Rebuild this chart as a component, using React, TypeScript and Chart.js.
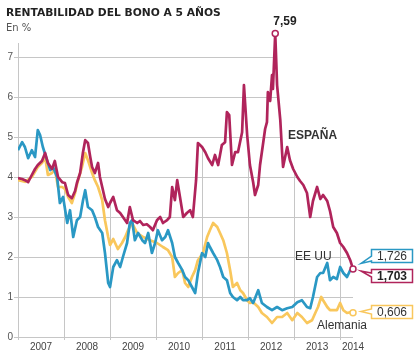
import React, { useEffect, useRef } from 'react';
import { Chart, registerables } from 'chart.js';

Chart.register(...registerables);

// ---- DATA (decimal years, yield in %) ----
const SPAIN_DATES = [
  2007.00, 2007.09, 2007.15, 2007.22, 2007.30, 2007.37, 2007.43, 2007.52, 2007.59, 2007.65,
  2007.74, 2007.80, 2007.87, 2007.96, 2008.02, 2008.09, 2008.17, 2008.24, 2008.28, 2008.35,
  2008.41, 2008.46, 2008.52, 2008.57, 2008.61, 2008.67, 2008.74, 2008.78, 2008.83, 2008.89,
  2008.96, 2009.00, 2009.07, 2009.15, 2009.22, 2009.28, 2009.37, 2009.43, 2009.50, 2009.59,
  2009.65, 2009.72, 2009.80, 2009.87, 2009.93, 2010.02, 2010.09, 2010.15, 2010.24, 2010.30,
  2010.35, 2010.41, 2010.46, 2010.52, 2010.59, 2010.67, 2010.74, 2010.80, 2010.87, 2010.91,
  2011.00, 2011.07, 2011.13, 2011.22, 2011.28, 2011.35, 2011.43, 2011.50, 2011.54, 2011.59,
  2011.65, 2011.72, 2011.78, 2011.87, 2011.91, 2011.98, 2012.04, 2012.11, 2012.15, 2012.22,
  2012.26, 2012.33, 2012.37, 2012.41, 2012.43, 2012.48, 2012.52, 2012.54, 2012.59, 2012.63,
  2012.70, 2012.74, 2012.76, 2012.85, 2012.91, 2012.98, 2013.07, 2013.13, 2013.20, 2013.28,
  2013.35, 2013.41, 2013.50, 2013.57, 2013.63, 2013.72, 2013.78, 2013.85, 2013.93, 2014.00,
  2014.07, 2014.15, 2014.22, 2014.28,
];
const SPAIN_VALUES = [
  3.97, 3.95, 3.92, 3.87, 4.05, 4.20, 4.30, 4.40, 4.60, 4.35,
  4.20, 4.40, 4.00, 3.87, 3.85, 3.55, 3.47, 3.65, 3.85, 4.10,
  4.60, 4.92, 4.85, 4.50, 4.25, 4.10, 4.35, 4.00, 3.75, 3.45,
  3.25, 3.35, 3.50, 3.17, 3.10, 3.00, 2.85, 3.25, 2.92, 2.85,
  2.90, 2.80, 2.82, 2.75, 2.67, 2.92, 3.00, 2.85, 2.92, 3.00,
  3.75, 3.42, 3.92, 3.50, 3.00, 3.10, 3.17, 3.00, 3.92, 4.85,
  4.75, 4.62, 4.47, 4.30, 4.55, 4.30, 4.80, 4.87, 5.62, 5.55,
  4.30, 4.62, 4.62, 5.12, 6.30, 5.05, 4.30, 3.87, 3.55, 3.80,
  4.30, 4.87, 5.20, 5.37, 6.12, 5.90, 6.55, 6.20, 7.59, 6.30,
  5.42, 4.60, 4.25, 4.75, 4.42, 4.20, 4.00, 3.90, 3.80, 3.60,
  3.00, 3.40, 3.75, 3.45, 3.55, 3.40, 3.15, 2.75, 2.60, 2.35,
  2.25, 2.10, 1.92, 1.703,
];

const US_DATES = [
  2007.00, 2007.09, 2007.15, 2007.22, 2007.30, 2007.37, 2007.43, 2007.48, 2007.54, 2007.63,
  2007.70, 2007.76, 2007.85, 2007.91, 2007.98, 2008.07, 2008.13, 2008.20, 2008.28, 2008.35,
  2008.41, 2008.46, 2008.52, 2008.61, 2008.67, 2008.74, 2008.83, 2008.89, 2008.96, 2009.00,
  2009.07, 2009.15, 2009.22, 2009.28, 2009.37, 2009.43, 2009.48, 2009.54, 2009.61, 2009.70,
  2009.76, 2009.83, 2009.91, 2009.98, 2010.04, 2010.13, 2010.20, 2010.26, 2010.35, 2010.41,
  2010.48, 2010.57, 2010.63, 2010.70, 2010.78, 2010.85, 2010.91, 2011.00, 2011.07, 2011.13,
  2011.17, 2011.24, 2011.33, 2011.39, 2011.46, 2011.54, 2011.61, 2011.67, 2011.76, 2011.83,
  2011.89, 2011.98, 2012.04, 2012.11, 2012.22, 2012.30, 2012.41, 2012.52, 2012.63, 2012.74,
  2012.85, 2012.96, 2013.07, 2013.17, 2013.28, 2013.35, 2013.41, 2013.50, 2013.57, 2013.63,
  2013.72, 2013.78, 2013.85, 2013.93, 2014.00, 2014.07, 2014.15, 2014.22, 2014.28,
];
const US_VALUES = [
  4.67, 4.87, 4.75, 4.47, 4.67, 4.50, 5.17, 5.05, 4.75, 4.42,
  4.17, 4.25, 4.00, 3.35, 3.50, 2.85, 3.17, 2.50, 2.92, 3.00,
  3.40, 3.67, 3.25, 3.17, 3.00, 2.75, 2.60, 2.10, 1.35, 1.25,
  1.75, 1.92, 1.75, 2.00, 2.35, 2.85, 2.92, 2.42, 2.60, 2.42,
  2.35, 2.60, 2.10, 2.35, 2.67, 2.42, 2.50, 2.67, 2.35, 2.00,
  1.85, 1.67, 1.50, 1.42, 1.25, 1.10, 1.60, 2.10, 2.00, 2.35,
  2.25, 2.10, 1.92, 1.75, 1.50, 1.42, 1.10, 1.00, 0.92, 1.00,
  0.92, 0.92, 0.97, 0.85, 1.17, 0.85, 0.75, 0.67, 0.75, 0.67,
  0.72, 0.75, 0.87, 0.92, 0.75, 0.72, 1.00, 1.50, 1.60, 1.60,
  1.85, 1.42, 1.50, 1.45, 1.75, 1.60, 1.50, 1.67, 1.726,
];

const DE_DATES = [
  2007.00, 2007.15, 2007.30, 2007.43, 2007.52, 2007.59, 2007.65, 2007.74, 2007.80, 2007.87,
  2007.96, 2008.02, 2008.09, 2008.17, 2008.24, 2008.30, 2008.39, 2008.46, 2008.52, 2008.61,
  2008.67, 2008.74, 2008.83, 2008.89, 2008.96, 2009.00, 2009.07, 2009.17, 2009.26, 2009.33,
  2009.39, 2009.48, 2009.59, 2009.72, 2009.87, 2010.02, 2010.15, 2010.26, 2010.35, 2010.41,
  2010.48, 2010.57, 2010.63, 2010.70, 2010.78, 2010.85, 2010.91, 2011.02, 2011.11, 2011.17,
  2011.24, 2011.33, 2011.39, 2011.46, 2011.54, 2011.61, 2011.67, 2011.76, 2011.83, 2011.89,
  2011.98, 2012.04, 2012.11, 2012.22, 2012.30, 2012.41, 2012.52, 2012.63, 2012.74, 2012.85,
  2012.96, 2013.07, 2013.17, 2013.28, 2013.39, 2013.46, 2013.52, 2013.59, 2013.63, 2013.72,
  2013.78, 2013.85, 2013.93, 2014.00, 2014.07, 2014.15, 2014.22, 2014.28,
];
const DE_VALUES = [
  3.92, 3.88, 4.00, 4.25, 4.35, 4.50, 4.05, 4.10, 4.20, 3.75,
  3.75, 3.70, 3.50, 3.35, 3.60, 3.90, 4.25, 4.60, 4.42, 4.10,
  3.92, 3.75, 3.42, 2.92, 2.50, 2.30, 2.45, 2.20, 2.35, 2.50,
  2.67, 2.85, 2.60, 2.50, 2.42, 2.35, 2.25, 2.17, 2.00, 1.50,
  1.60, 1.67, 1.35, 1.25, 1.50, 1.67, 1.92, 2.10, 2.50, 2.67,
  2.85, 2.75, 2.60, 2.42, 2.10, 1.67, 1.25, 1.35, 1.17, 1.10,
  0.92, 0.85, 0.87, 0.75, 0.60, 0.50, 0.35, 0.50, 0.50, 0.60,
  0.42, 0.60, 0.50, 0.35, 0.42, 0.60, 0.75, 1.00, 0.92, 0.75,
  0.67, 0.67, 0.67, 0.85, 0.67, 0.60, 0.62, 0.606,
];

const Y_TICKS = [0, 1, 2, 3, 4, 5, 6, 7];
const YEAR_LABELS = ['2007', '2008', '2009', '2010', '2011', '2012', '2013', '2014'];
const YEAR_LABEL_AT = [2007.5, 2008.5, 2009.5, 2010.5, 2011.5, 2012.5, 2013.5, 2014.28];
const YEAR_BOUNDARIES = [2008, 2009, 2010, 2011, 2012, 2013, 2014];
const AXIS_TOP_VALUE = 7.35;

const TITLE = 'RENTABILIDAD DEL BONO A 5 AÑOS';
const SUBTITLE = 'En %';
const SERIES_NAMES = ['ESPAÑA', 'EE UU', 'Alemania'];

// ---- STYLE ----
const RED = '#b0245b';
const BLUE = '#2a98c4';
const YELLOW = '#f9c75c';
const GRID = '#c6c6c6';
const TEXT = '#333333';
const LABEL_FONT = '"Liberation Sans", Arial, sans-serif';
const TITLE_FONT = '"DejaVu Sans", Verdana, sans-serif';

const toPoints = (d: number[], v: number[]) => d.map((x, i) => ({ x, y: v[i] }));
const fmt = (v: number, digits: number) => v.toFixed(digits).replace('.', ',');

function valueAt(dates: number[], values: number[], xv: number) {
  for (let i = 0; i < dates.length - 1; i++) {
    if (xv >= dates[i] && xv <= dates[i + 1]) {
      const t = (xv - dates[i]) / (dates[i + 1] - dates[i]);
      return values[i] + t * (values[i + 1] - values[i]);
    }
  }
  return values[values.length - 1];
}

function drawCircle(ctx: CanvasRenderingContext2D, x: number, y: number, color: string) {
  ctx.beginPath();
  ctx.arc(x, y, 3, 0, Math.PI * 2);
  ctx.fillStyle = '#ffffff';
  ctx.fill();
  ctx.lineWidth = 1.5;
  ctx.strokeStyle = color;
  ctx.stroke();
}

function drawBox(
  ctx: CanvasRenderingContext2D,
  x: number, y: number, w: number, h: number,
  tailTop: number, tailBottom: number, tipX: number, tipY: number,
  color: string, text: string, bold: boolean,
) {
  ctx.beginPath();
  ctx.moveTo(x, y);
  ctx.lineTo(x + w, y);
  ctx.lineTo(x + w, y + h);
  ctx.lineTo(x, y + h);
  ctx.lineTo(x, tailBottom);
  ctx.lineTo(tipX, tipY);
  ctx.lineTo(x, tailTop);
  ctx.closePath();
  ctx.fillStyle = '#ffffff';
  ctx.fill();
  ctx.lineWidth = 1.5;
  ctx.lineJoin = 'miter';
  ctx.strokeStyle = color;
  ctx.stroke();
  ctx.fillStyle = bold ? '#222222' : TEXT;
  ctx.font = `${bold ? 'bold ' : ''}12px ${LABEL_FONT}`;
  ctx.textAlign = 'center';
  ctx.textBaseline = 'middle';
  ctx.fillText(text, x + w / 2, y + h / 2 + 0.5);
}

const decorPlugin = {
  id: 'decor',
  beforeDatasetsDraw(chart: any) {
    const { ctx, chartArea: a, scales } = chart;
    const xs = scales.x;
    const ys = scales.y;
    const n = SPAIN_VALUES.length;
    ctx.save();
    ctx.strokeStyle = GRID;
    ctx.lineWidth = 1;
    ctx.beginPath();
    for (const t of Y_TICKS) {
      let endX = a.right;
      if (SPAIN_VALUES[n - 1] < t) {
        let i = n - 1;
        while (i >= 0 && SPAIN_VALUES[i] < t) i--;
        if (i < 0) endX = a.left;
        else {
          const v0 = SPAIN_VALUES[i];
          const v1 = SPAIN_VALUES[i + 1];
          const d = SPAIN_DATES[i] + ((v0 - t) / (v0 - v1)) * (SPAIN_DATES[i + 1] - SPAIN_DATES[i]);
          endX = xs.getPixelForValue(d);
        }
      }
      const py = Math.round(ys.getPixelForValue(t)) + 0.5;
      ctx.moveTo(a.left - 4, py);
      ctx.lineTo(endX, py);
    }
    for (const yr of YEAR_BOUNDARIES) {
      const px = Math.round(xs.getPixelForValue(yr)) + 0.5;
      const top = ys.getPixelForValue(valueAt(SPAIN_DATES, SPAIN_VALUES, yr));
      ctx.moveTo(px, a.bottom + 3);
      ctx.lineTo(px, top);
    }
    const lx = Math.round(a.left) + 0.5;
    ctx.moveTo(lx, a.bottom + 3);
    ctx.lineTo(lx, ys.getPixelForValue(AXIS_TOP_VALUE));
    ctx.stroke();
    ctx.restore();
  },
  afterDatasetsDraw(chart: any) {
    const { ctx, scales } = chart;
    const xs = scales.x;
    const ys = scales.y;
    ctx.save();

    // peak marker
    let pk = 0;
    SPAIN_VALUES.forEach((v, i) => { if (v > SPAIN_VALUES[pk]) pk = i; });
    const pkX = xs.getPixelForValue(SPAIN_DATES[pk]);
    const pkY = ys.getPixelForValue(SPAIN_VALUES[pk]);
    drawCircle(ctx, pkX, pkY, RED);
    ctx.fillStyle = '#222222';
    ctx.font = `bold 12px ${LABEL_FONT}`;
    ctx.textAlign = 'left';
    ctx.textBaseline = 'alphabetic';
    ctx.fillText(fmt(SPAIN_VALUES[pk], 2), pkX - 2, pkY - 8);

    // end markers
    const lastS = SPAIN_VALUES.length - 1;
    const lastD = DE_VALUES.length - 1;
    const lastU = US_VALUES.length - 1;
    drawCircle(ctx, xs.getPixelForValue(DE_DATES[lastD]), ys.getPixelForValue(DE_VALUES[lastD]), YELLOW);
    drawCircle(ctx, xs.getPixelForValue(SPAIN_DATES[lastS]), ys.getPixelForValue(SPAIN_VALUES[lastS]), RED);

    // series names
    ctx.fillStyle = TEXT;
    ctx.textAlign = 'left';
    ctx.textBaseline = 'alphabetic';
    ctx.font = `bold 12px ${LABEL_FONT}`;
    ctx.fillText(SERIES_NAMES[0], 288, 139);
    ctx.font = `12px ${LABEL_FONT}`;
    ctx.fillText(SERIES_NAMES[1], 295, 260);
    ctx.fillText(SERIES_NAMES[2], 317, 329);

    // value boxes
    drawBox(ctx, 371.5, 249.5, 41, 13, 256, 261, 361, 263.5, BLUE, fmt(US_VALUES[lastU], 3), false);
    drawBox(ctx, 371.5, 269.5, 41, 13, 273, 277, 361, 271, RED, fmt(SPAIN_VALUES[lastS], 3), true);
    drawBox(ctx, 371.5, 305.5, 41, 13, 309, 314, 361, 311.5, YELLOW, fmt(DE_VALUES[lastD], 3), false);
    ctx.restore();
  },
  afterDraw(chart: any) {
    const { ctx } = chart;
    ctx.save();
    ctx.textAlign = 'left';
    ctx.textBaseline = 'alphabetic';
    ctx.fillStyle = '#222222';
    ctx.font = `bold 10.7px ${TITLE_FONT}`;
    ctx.fillText(TITLE, 6, 15.5);
    ctx.fillStyle = '#555555';
    ctx.font = `10px ${TITLE_FONT}`;
    ctx.fillText(SUBTITLE, 6, 31);
    ctx.restore();
  },
};

export default function App() {
  const ref = useRef<HTMLCanvasElement | null>(null);

  useEffect(() => {
    if (!ref.current) return;
    const chart = new Chart(ref.current, {
      type: 'line',
      data: {
        datasets: [
          { label: SERIES_NAMES[0], data: toPoints(SPAIN_DATES, SPAIN_VALUES), borderColor: RED },
          { label: SERIES_NAMES[1], data: toPoints(US_DATES, US_VALUES), borderColor: BLUE },
          { label: SERIES_NAMES[2], data: toPoints(DE_DATES, DE_VALUES), borderColor: YELLOW },
        ].map((d) => ({
          ...d,
          borderWidth: 2.7,
          pointRadius: 0,
          pointHoverRadius: 0,
          tension: 0,
          fill: false,
          borderJoinStyle: 'round' as const,
        })),
      },
      options: {
        animation: false,
        responsive: false,
        devicePixelRatio: 1,
        events: [],
        layout: { padding: { top: 17, right: 61, left: 0, bottom: 0 } },
        plugins: {
          legend: { display: false },
          tooltip: { enabled: false },
          title: { display: false },
        },
        scales: {
          x: {
            type: 'linear',
            min: SPAIN_DATES[0],
            max: SPAIN_DATES[SPAIN_DATES.length - 1],
            grid: { display: false, drawTicks: false },
            border: { display: false },
            afterBuildTicks: (scale: any) => {
              scale.ticks = YEAR_LABEL_AT.map((v) => ({ value: v }));
            },
            afterFit: (scale: any) => { scale.height = 24; },
            ticks: {
              autoSkip: false,
              maxRotation: 0,
              padding: 4,
              color: '#444444',
              font: { family: LABEL_FONT, size: 10 },
              callback: (_v: any, i: number) => YEAR_LABELS[i],
            },
          },
          y: {
            type: 'linear',
            min: 0,
            max: 8,
            grid: { display: false, drawTicks: false },
            border: { display: false },
            afterBuildTicks: (scale: any) => {
              scale.ticks = Y_TICKS.map((v) => ({ value: v }));
            },
            afterFit: (scale: any) => { scale.width = 18; },
            ticks: {
              padding: 5,
              color: '#555555',
              font: { family: LABEL_FONT, size: 10 },
              callback: (v: any) => String(v),
            },
          },
        },
      },
      plugins: [decorPlugin],
    });
    return () => chart.destroy();
  }, []);

  return (
    <div style={{ position: 'absolute', left: 0, top: 0, width: 414, height: 361, background: '#ffffff' }}>
      <canvas ref={ref} width={414} height={361} style={{ display: 'block' }} />
    </div>
  );
}
